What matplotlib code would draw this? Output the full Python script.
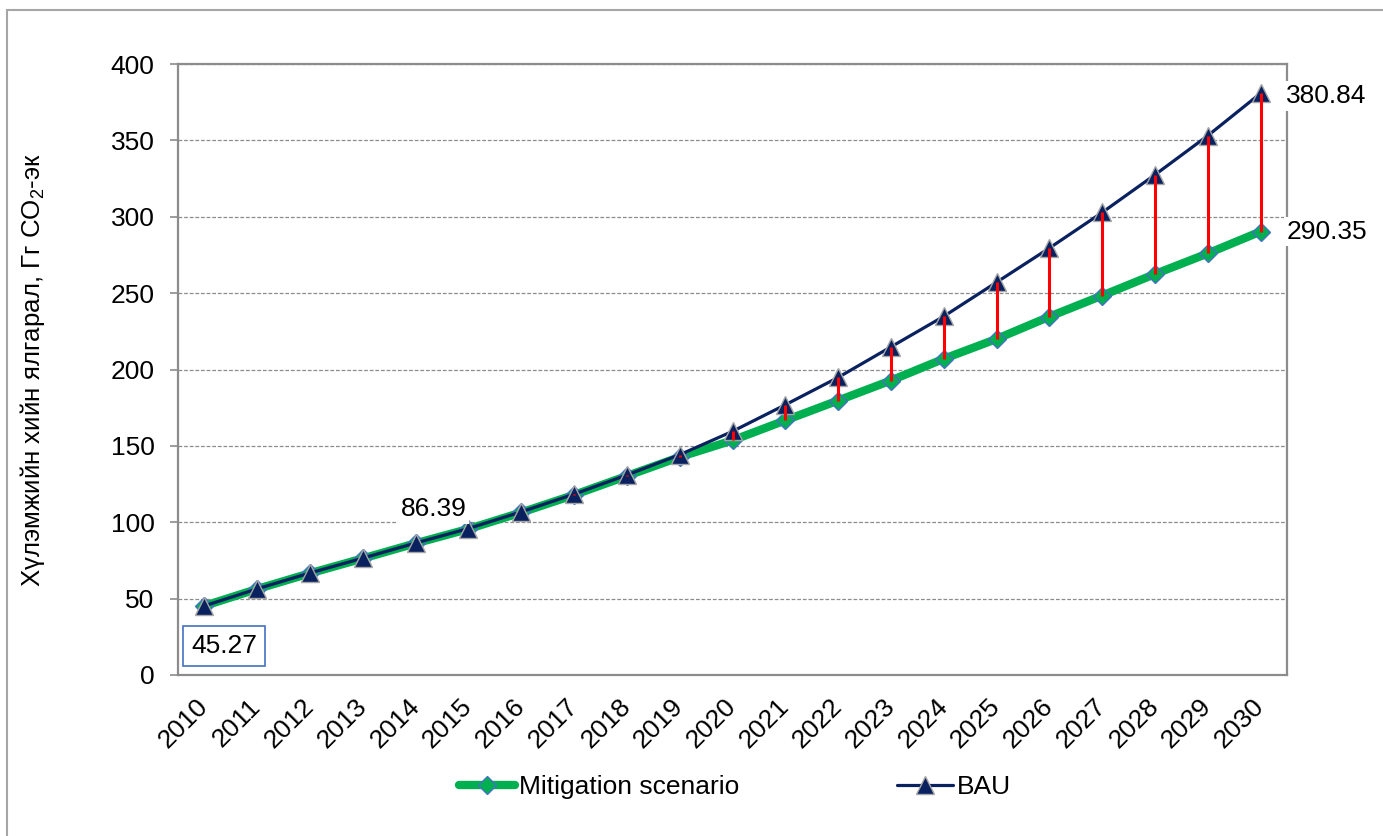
import matplotlib
matplotlib.use('Agg')
import matplotlib.pyplot as plt
from matplotlib.lines import Line2D
from matplotlib.patches import Rectangle

plt.rcParams['font.family'] = ['Liberation Sans', 'DejaVu Sans']
plt.rcParams['mathtext.fontset'] = 'custom'
plt.rcParams['mathtext.rm'] = 'Liberation Sans'
plt.rcParams['mathtext.it'] = 'Liberation Sans'

years = [str(y) for y in range(2010, 2031)]
bau = [45.27, 56.4, 66.8, 76.5, 86.39, 95.9, 106.8, 118.4, 130.9, 144.2, 159.5,
       176.9, 194.8, 214.8, 234.8, 257.1, 279.5, 302.8, 327.5, 353.1, 380.84]
mitigation = [45.27, 56.3, 66.6, 76.3, 86.2, 95.6, 106.4, 117.9, 130.3, 142.7, 153.6,
              166.7, 179.7, 192.8, 207.0, 220.0, 234.6, 248.4, 262.5, 276.0, 290.35]
y_ticks = [0, 50, 100, 150, 200, 250, 300, 350, 400]

green = '#00b050'
navy = '#0a2160'
frame = '#8c8c8c'
fs = 19

fig = plt.figure(figsize=(13.83, 8.36), dpi=100)
ax = fig.add_axes([0.1287, 0.1926, 0.8019, 0.7308])

x = list(range(len(years)))

ax.plot(x, mitigation, color=green, linewidth=6, solid_capstyle='round',
        marker='D', markersize=9, markerfacecolor=green, markeredgecolor='#4472c4',
        markeredgewidth=1.0, zorder=3)
ax.plot(x, bau, color=navy, linewidth=2.3, solid_capstyle='round',
        marker='^', markersize=13, markerfacecolor=navy, markeredgecolor='#a6a6a6',
        markeredgewidth=1.0, zorder=4)

# red gap lines between scenarios
ax.vlines(x, mitigation, bau, color='red', linewidth=2.2, zorder=5)

ax.set_xlim(-0.5, len(years) - 0.5)
ax.set_ylim(0, 400)
ax.set_yticks(y_ticks)
ax.set_xticks(x)
ax.set_xticklabels(years, rotation=45, ha='right', va='center', rotation_mode='anchor')

ax.tick_params(axis='y', labelsize=fs, length=6, width=1.2, color=frame, pad=11)
ax.tick_params(axis='x', labelsize=fs, length=0, pad=20)

ax.grid(axis='y', color=frame, linestyle=(0, (3, 1.5)), linewidth=0.9)
ax.set_axisbelow(True)
for s in ax.spines.values():
    s.set_color(frame)
    s.set_linewidth(1.6)

ax.set_ylabel('Хүлэмжийн хийн ялгарал, Гг CO$_2$-эк', fontsize=18.6)
ax.yaxis.set_label_coords(-0.118, 0.5)

# data labels
ax.annotate('45.27', xy=(0, bau[0]), xytext=(14.4, -29), textcoords='offset points',
            ha='center', va='center', fontsize=fs, zorder=6,
            bbox=dict(boxstyle='square,pad=0.3', fc='white', ec='#4472c4', lw=1.2))
ax.annotate('86.39', xy=(4, bau[4]), xytext=(13, 24.5), textcoords='offset points',
            ha='center', va='center', fontsize=fs, zorder=6,
            bbox=dict(boxstyle='square,pad=0.1', fc='white', ec='none'))
ax.annotate('380.84', xy=(20, bau[20]), xytext=(47.5, -2), textcoords='offset points',
            ha='center', va='center', fontsize=fs, zorder=6, annotation_clip=False,
            bbox=dict(boxstyle='square,pad=0.1', fc='white', ec='none'))
ax.annotate('290.35', xy=(20, mitigation[20]), xytext=(47.5, 0), textcoords='offset points',
            ha='center', va='center', fontsize=fs, zorder=6, annotation_clip=False,
            bbox=dict(boxstyle='square,pad=0.1', fc='white', ec='none'))

handles = [
    Line2D([], [], color=green, linewidth=6, solid_capstyle='round', marker='D',
           markersize=9, markerfacecolor=green, markeredgecolor='#4472c4'),
    Line2D([], [], color=navy, linewidth=2.3, solid_capstyle='round', marker='^',
           markersize=13, markerfacecolor=navy, markeredgecolor='#a6a6a6'),
]
fig.legend(handles, ['Mitigation scenario', 'BAU'], loc='center',
           bbox_to_anchor=(735 / 1383, 1 - 787 / 836), ncol=2, frameon=False, fontsize=fs,
           handlelength=2.1, handletextpad=0.15, columnspacing=6.0)

# outer chart border
fig.patches.append(Rectangle((7 / 1383, -0.01), 1.02, 1 - 10 / 836 + 0.01,
                             transform=fig.transFigure, fill=False,
                             edgecolor='#a6a6a6', linewidth=1.5))

fig.savefig('out.png', dpi=100)
